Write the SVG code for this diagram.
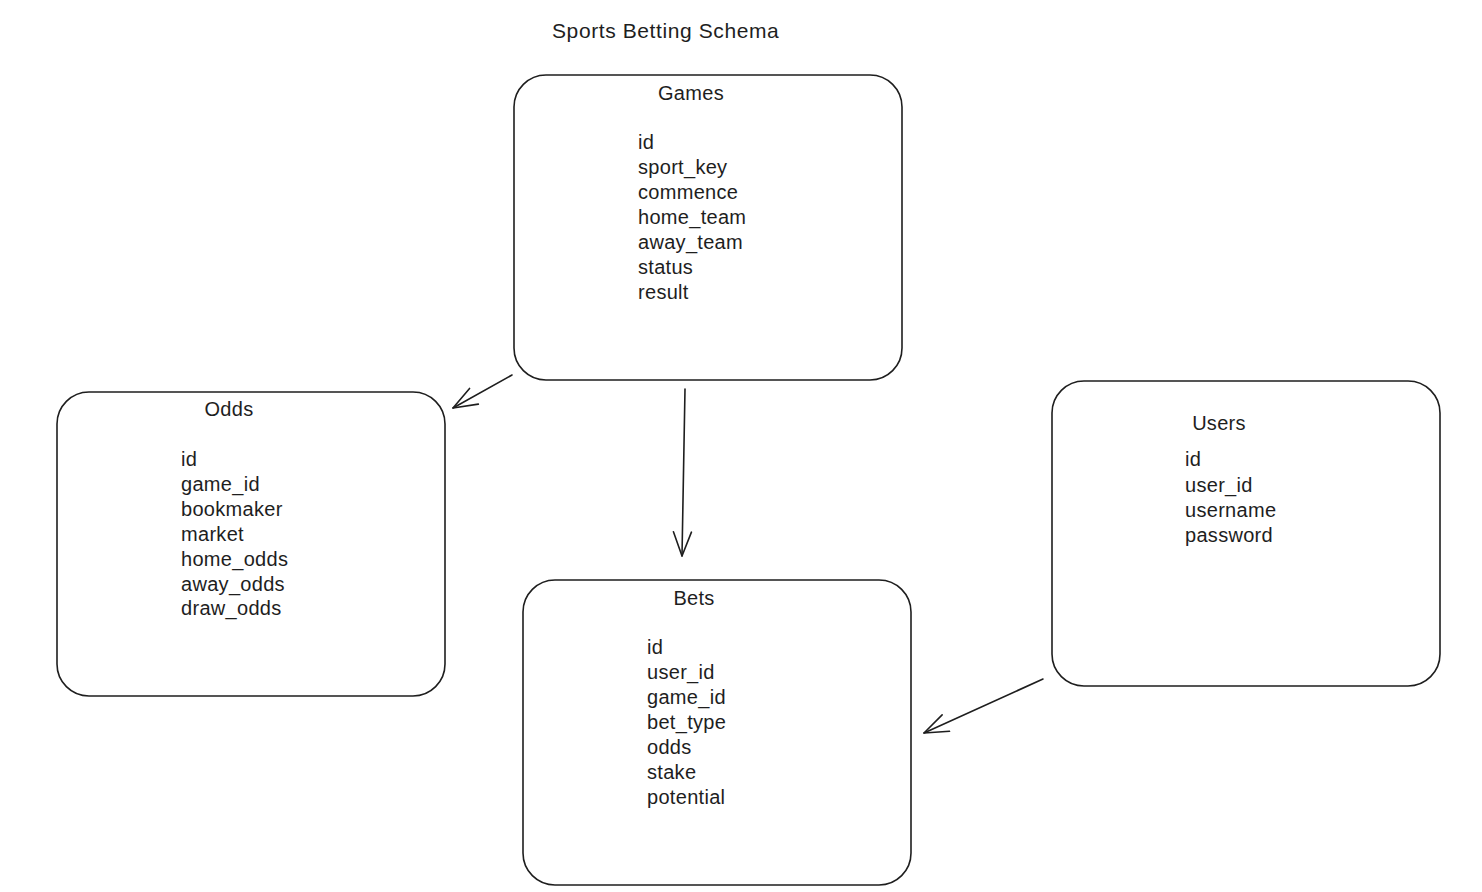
<svg xmlns="http://www.w3.org/2000/svg" width="1482" height="892" viewBox="0 0 1482 892">
<style>
.box{fill:none;stroke:#1e1e1e;stroke-width:1.6}
.t{font-family:"Liberation Sans",Arial,sans-serif;font-size:20px;fill:#1e1e1e;letter-spacing:0.3px}
.h{text-anchor:middle}
.ti{font-size:21px;letter-spacing:0.6px}
.c{fill:none;stroke:#1e1e1e;stroke-width:1.6;stroke-linecap:round}
</style>
<defs>
<marker id="arr" markerUnits="userSpaceOnUse" markerWidth="30" markerHeight="30" viewBox="-25 -15 30 30" refX="0" refY="0" orient="auto">
<path d="M -24 -9 L 0 0 L -24 9" fill="none" stroke="#1e1e1e" stroke-width="1.6" stroke-linecap="round" stroke-linejoin="round"/>
</marker>
</defs>
<rect width="1482" height="892" fill="#ffffff"/>
<text class="t ti" x="552" y="38">Sports Betting Schema</text>
<g id="games">
<rect class="box" x="514" y="75" width="388" height="305" rx="32"/>
<text class="t h" x="691" y="100">Games</text>
<text class="t" x="638" y="149">id</text>
<text class="t" x="638" y="174">sport_key</text>
<text class="t" x="638" y="199">commence</text>
<text class="t" x="638" y="224">home_team</text>
<text class="t" x="638" y="249">away_team</text>
<text class="t" x="638" y="274">status</text>
<text class="t" x="638" y="299">result</text>
</g>
<g id="odds">
<rect class="box" x="57" y="392" width="388" height="304" rx="32"/>
<text class="t h" x="229" y="416">Odds</text>
<text class="t" x="181" y="466">id</text>
<text class="t" x="181" y="491">game_id</text>
<text class="t" x="181" y="516">bookmaker</text>
<text class="t" x="181" y="541">market</text>
<text class="t" x="181" y="566">home_odds</text>
<text class="t" x="181" y="591">away_odds</text>
<text class="t" x="181" y="615">draw_odds</text>
</g>
<g id="bets">
<rect class="box" x="523" y="580" width="388" height="305" rx="32"/>
<text class="t h" x="694" y="605">Bets</text>
<text class="t" x="647" y="654">id</text>
<text class="t" x="647" y="679">user_id</text>
<text class="t" x="647" y="704">game_id</text>
<text class="t" x="647" y="729">bet_type</text>
<text class="t" x="647" y="754">odds</text>
<text class="t" x="647" y="779">stake</text>
<text class="t" x="647" y="804">potential</text>
</g>
<g id="users">
<rect class="box" x="1052" y="381" width="388" height="305" rx="32"/>
<text class="t h" x="1219" y="430">Users</text>
<text class="t" x="1185" y="466">id</text>
<text class="t" x="1185" y="492">user_id</text>
<text class="t" x="1185" y="517">username</text>
<text class="t" x="1185" y="542">password</text>
</g>
<g id="connectors">
<path class="c" d="M 512 375 L 453 408" marker-end="url(#arr)"/>
<path class="c" d="M 685 389 L 682 556" marker-end="url(#arr)"/>
<path class="c" d="M 1043 679 L 924 733" marker-end="url(#arr)"/>
</g>
</svg>
